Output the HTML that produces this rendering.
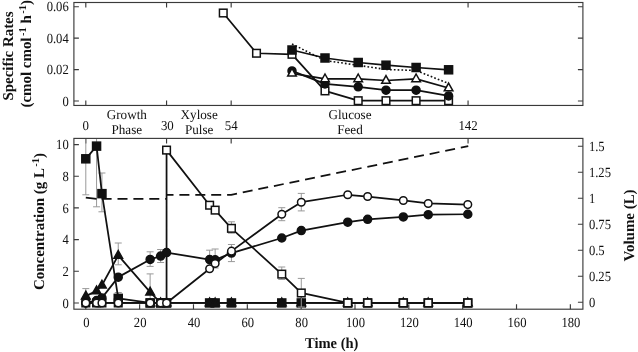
<!DOCTYPE html><html><head><meta charset="utf-8"><title>Figure</title><style>html,body{margin:0;padding:0;background:#fff}svg{display:block;will-change:transform}text{text-rendering:geometricPrecision}text{font-family:"Liberation Serif","Times New Roman",serif;fill:#111}.b{font-weight:bold}</style></head><body>
<svg width="638" height="352" viewBox="0 0 638 352">
<rect width="638" height="352" fill="#fff"/>
<rect x="73.9" y="2.5" width="509.0" height="102.95" stroke="#3a3a3a" stroke-width="1.15" fill="none"/>
<rect x="73.9" y="138.4" width="509.0" height="170.79999999999998" stroke="#3a3a3a" stroke-width="1.15" fill="none"/>
<path d="M73.9 101.0h5 M582.9 101.0h-5 M73.9 69.58h5 M582.9 69.58h-5 M73.9 38.16h5 M582.9 38.16h-5 M73.9 6.739999999999995h5 M582.9 6.739999999999995h-5 M85.80 2.5v5 M85.80 105.45v-5 M85.80 138.4v5 M166.56 2.5v5 M166.56 105.45v-5 M166.56 138.4v5 M231.17 2.5v5 M231.17 105.45v-5 M231.17 138.4v5 M468.06 2.5v5 M468.06 105.45v-5 M468.06 138.4v5 M73.9 302.95h5 M73.9 271.27h5 M73.9 239.59h5 M73.9 207.91h5 M73.9 176.23h5 M73.9 144.55h5 M582.9 302.25h-5 M582.9 276.25h-5 M582.9 250.25h-5 M582.9 224.25h-5 M582.9 198.25h-5 M582.9 172.25h-5 M582.9 146.25h-5 M85.80 309.2v-5 M139.64 309.2v-5 M193.48 309.2v-5 M247.32 309.2v-5 M301.16 309.2v-5 M355.00 309.2v-5 M408.84 309.2v-5 M462.68 309.2v-5 M516.52 309.2v-5 M570.36 309.2v-5" stroke="#3a3a3a" stroke-width="1.15" fill="none"/>
<text transform="translate(68.7 105.60) scale(0.9 1)" font-size="14" text-anchor="end">0</text>
<text transform="translate(68.7 74.18) scale(0.9 1)" font-size="14" text-anchor="end">0.02</text>
<text transform="translate(68.7 42.76) scale(0.9 1)" font-size="14" text-anchor="end">0.04</text>
<text transform="translate(68.7 11.34) scale(0.9 1)" font-size="14" text-anchor="end">0.06</text>
<text transform="translate(68.7 307.55) scale(0.9 1)" font-size="14" text-anchor="end">0</text>
<text transform="translate(68.7 275.87) scale(0.9 1)" font-size="14" text-anchor="end">2</text>
<text transform="translate(68.7 244.19) scale(0.9 1)" font-size="14" text-anchor="end">4</text>
<text transform="translate(68.7 212.51) scale(0.9 1)" font-size="14" text-anchor="end">6</text>
<text transform="translate(68.7 180.83) scale(0.9 1)" font-size="14" text-anchor="end">8</text>
<text transform="translate(68.7 149.15) scale(0.9 1)" font-size="14" text-anchor="end">10</text>
<text transform="translate(588.9 306.85) scale(0.9 1)" font-size="14">0</text>
<text transform="translate(588.9 280.85) scale(0.9 1)" font-size="14">0.25</text>
<text transform="translate(588.9 254.85) scale(0.9 1)" font-size="14">0.5</text>
<text transform="translate(588.9 228.85) scale(0.9 1)" font-size="14">0.75</text>
<text transform="translate(588.9 202.85) scale(0.9 1)" font-size="14">1</text>
<text transform="translate(588.9 176.85) scale(0.9 1)" font-size="14">1.25</text>
<text transform="translate(588.9 150.85) scale(0.9 1)" font-size="14">1.5</text>
<text transform="translate(86.30 326.7) scale(0.9 1)" font-size="14" text-anchor="middle">0</text>
<text transform="translate(140.14 326.7) scale(0.9 1)" font-size="14" text-anchor="middle">20</text>
<text transform="translate(193.98 326.7) scale(0.9 1)" font-size="14" text-anchor="middle">40</text>
<text transform="translate(247.82 326.7) scale(0.9 1)" font-size="14" text-anchor="middle">60</text>
<text transform="translate(301.66 326.7) scale(0.9 1)" font-size="14" text-anchor="middle">80</text>
<text transform="translate(355.50 326.7) scale(0.9 1)" font-size="14" text-anchor="middle">100</text>
<text transform="translate(409.34 326.7) scale(0.9 1)" font-size="14" text-anchor="middle">120</text>
<text transform="translate(463.18 326.7) scale(0.9 1)" font-size="14" text-anchor="middle">140</text>
<text transform="translate(517.02 326.7) scale(0.9 1)" font-size="14" text-anchor="middle">160</text>
<text transform="translate(570.86 326.7) scale(0.9 1)" font-size="14" text-anchor="middle">180</text>
<text transform="translate(85.80 130.4) scale(0.954 1)" font-size="13.5" text-anchor="middle">0</text>
<text transform="translate(167.36 130.4) scale(0.954 1)" font-size="13.5" text-anchor="middle">30</text>
<text transform="translate(231.17 130.4) scale(0.954 1)" font-size="13.5" text-anchor="middle">54</text>
<text transform="translate(468.06 130.4) scale(0.954 1)" font-size="13.5" text-anchor="middle">142</text>
<text transform="translate(126.8 119.2) scale(0.973 1)" font-size="13.5" text-anchor="middle">Growth</text>
<text transform="translate(126.8 134.1) scale(0.973 1)" font-size="13.5" text-anchor="middle">Phase</text>
<text transform="translate(199.2 119.2) scale(0.973 1)" font-size="13.5" text-anchor="middle">Xylose</text>
<text transform="translate(199.2 134.1) scale(0.973 1)" font-size="13.5" text-anchor="middle">Pulse</text>
<text transform="translate(350 119.2) scale(0.973 1)" font-size="13.5" text-anchor="middle">Glucose</text>
<text transform="translate(350 134.1) scale(0.973 1)" font-size="13.5" text-anchor="middle">Feed</text>
<text class="b" font-size="15" text-anchor="middle" transform="translate(13 56) rotate(-90) scale(0.995 1)">Specific Rates</text>
<text class="b" font-size="15" text-anchor="middle" transform="translate(31 53.8) rotate(-90) scale(0.995 1)">(cmol cmol<tspan font-size="10.5" dy="-5.5" dx="1.5">-1</tspan><tspan dy="5.5"> h</tspan><tspan font-size="10.5" dy="-5.5" dx="1.5">-1</tspan><tspan dy="5.5">)</tspan></text>
<text class="b" font-size="15" text-anchor="middle" transform="translate(44 221.5) rotate(-90) scale(0.995 1)">Concentration (g L<tspan font-size="10.5" dy="-5.5" dx="1.5">-1</tspan><tspan dy="5.5">)</tspan></text>
<text class="b" font-size="15" text-anchor="middle" transform="translate(633.6 225.4) rotate(-90) scale(0.995 1)">Volume (L)</text>
<text class="b" font-size="15" text-anchor="middle" transform="translate(331.7 348.4) scale(0.97 1)">Time (h)</text>
<path d="M292.00 44.00 L325.00 60.50 L358.20 65.30 L386.00 69.50 L416.10 70.50 L448.60 83.50" stroke="#111" stroke-width="1.75" fill="none" stroke-linejoin="round" stroke-dasharray="1.7 2.1" style="stroke-width:1.6"/>
<path d="M223.25 13.00 L256.50 53.25 L292.00 54.30 L325.00 90.90 L358.20 100.70 L386.00 100.70 L416.10 100.70 L448.60 100.70" stroke="#111" stroke-width="1.75" fill="none" stroke-linejoin="round" />
<rect x="219.45" y="9.20" width="7.6" height="7.6" fill="#fff" stroke="#111" stroke-width="1.5"/>
<rect x="252.70" y="49.45" width="7.6" height="7.6" fill="#fff" stroke="#111" stroke-width="1.5"/>
<rect x="288.20" y="50.50" width="7.6" height="7.6" fill="#fff" stroke="#111" stroke-width="1.5"/>
<rect x="321.20" y="87.10" width="7.6" height="7.6" fill="#fff" stroke="#111" stroke-width="1.5"/>
<rect x="354.40" y="96.90" width="7.6" height="7.6" fill="#fff" stroke="#111" stroke-width="1.5"/>
<rect x="382.20" y="96.90" width="7.6" height="7.6" fill="#fff" stroke="#111" stroke-width="1.5"/>
<rect x="412.30" y="96.90" width="7.6" height="7.6" fill="#fff" stroke="#111" stroke-width="1.5"/>
<rect x="444.80" y="96.90" width="7.6" height="7.6" fill="#fff" stroke="#111" stroke-width="1.5"/>
<path d="M292.00 70.90 L325.00 83.90 L358.20 86.80 L386.00 90.20 L416.10 90.20 L448.60 95.90" stroke="#111" stroke-width="1.75" fill="none" stroke-linejoin="round" />
<circle cx="292.00" cy="70.90" r="4.0" fill="#111" stroke="#111" stroke-width="1.5"/>
<circle cx="325.00" cy="83.90" r="4.0" fill="#111" stroke="#111" stroke-width="1.5"/>
<circle cx="358.20" cy="86.80" r="4.0" fill="#111" stroke="#111" stroke-width="1.5"/>
<circle cx="386.00" cy="90.20" r="4.0" fill="#111" stroke="#111" stroke-width="1.5"/>
<circle cx="416.10" cy="90.20" r="4.0" fill="#111" stroke="#111" stroke-width="1.5"/>
<circle cx="448.60" cy="95.90" r="4.0" fill="#111" stroke="#111" stroke-width="1.5"/>
<path d="M292.00 73.30 L325.00 78.90 L358.20 78.90 L386.00 80.50 L416.10 78.90 L448.60 88.00" stroke="#111" stroke-width="1.75" fill="none" stroke-linejoin="round" />
<path d="M292.00 68.40L296.30 76.10L287.70 76.10Z" fill="#fff" stroke="#111" stroke-width="1.5" stroke-linejoin="miter"/>
<path d="M325.00 74.00L329.30 81.70L320.70 81.70Z" fill="#fff" stroke="#111" stroke-width="1.5" stroke-linejoin="miter"/>
<path d="M358.20 74.00L362.50 81.70L353.90 81.70Z" fill="#fff" stroke="#111" stroke-width="1.5" stroke-linejoin="miter"/>
<path d="M386.00 75.60L390.30 83.30L381.70 83.30Z" fill="#fff" stroke="#111" stroke-width="1.5" stroke-linejoin="miter"/>
<path d="M416.10 74.00L420.40 81.70L411.80 81.70Z" fill="#fff" stroke="#111" stroke-width="1.5" stroke-linejoin="miter"/>
<path d="M448.60 83.10L452.90 90.80L444.30 90.80Z" fill="#fff" stroke="#111" stroke-width="1.5" stroke-linejoin="miter"/>
<path d="M292.00 50.00 L325.00 58.00 L358.20 62.50 L386.00 65.20 L416.10 67.50 L448.60 69.80" stroke="#111" stroke-width="1.75" fill="none" stroke-linejoin="round" />
<rect x="288.00" y="46.00" width="8.0" height="8.0" fill="#111" stroke="#111" stroke-width="1.5"/>
<rect x="321.00" y="54.00" width="8.0" height="8.0" fill="#111" stroke="#111" stroke-width="1.5"/>
<rect x="354.20" y="58.50" width="8.0" height="8.0" fill="#111" stroke="#111" stroke-width="1.5"/>
<rect x="382.00" y="61.20" width="8.0" height="8.0" fill="#111" stroke="#111" stroke-width="1.5"/>
<rect x="412.10" y="63.50" width="8.0" height="8.0" fill="#111" stroke="#111" stroke-width="1.5"/>
<rect x="444.60" y="65.80" width="8.0" height="8.0" fill="#111" stroke="#111" stroke-width="1.5"/>
<path d="M85.80 139.00V194.80M82.30 194.80h7.0" stroke="#999" stroke-width="1" fill="none"/>
<path d="M96.57 139.00V206.80M93.07 206.80h7.0" stroke="#999" stroke-width="1" fill="none"/>
<path d="M101.95 173.00V211.80M98.45 173.00h7.0M98.45 211.80h7.0" stroke="#999" stroke-width="1" fill="none"/>
<path d="M118.24 243.00V264.80M114.74 243.00h7.0M114.74 264.80h7.0" stroke="#999" stroke-width="1" fill="none"/>
<path d="M150.14 251.80V266.40M146.64 251.80h7.0M146.64 266.40h7.0" stroke="#999" stroke-width="1" fill="none"/>
<path d="M160.64 249.50V262.50M157.14 249.50h7.0M157.14 262.50h7.0" stroke="#999" stroke-width="1" fill="none"/>
<path d="M150.14 273.90V302.00M146.64 273.90h7.0" stroke="#999" stroke-width="1" fill="none"/>
<path d="M85.80 288.60V302.00M82.30 288.60h7.0" stroke="#999" stroke-width="1" fill="none"/>
<path d="M118.24 292.50V302.00M114.74 292.50h7.0" stroke="#999" stroke-width="1" fill="none"/>
<path d="M209.63 250.20V268.00M206.13 250.20h7.0M206.13 268.00h7.0" stroke="#999" stroke-width="1" fill="none"/>
<path d="M215.15 249.00V268.00M211.65 249.00h7.0M211.65 268.00h7.0" stroke="#999" stroke-width="1" fill="none"/>
<path d="M231.44 221.80V233.20M227.94 221.80h7.0M227.94 233.20h7.0" stroke="#999" stroke-width="1" fill="none"/>
<path d="M231.44 244.50V261.60M227.94 244.50h7.0M227.94 261.60h7.0" stroke="#999" stroke-width="1" fill="none"/>
<path d="M281.78 207.70V220.70M278.28 207.70h7.0M278.28 220.70h7.0" stroke="#999" stroke-width="1" fill="none"/>
<path d="M281.78 267.00V279.50M278.28 267.00h7.0M278.28 279.50h7.0" stroke="#999" stroke-width="1" fill="none"/>
<path d="M301.29 193.40V210.90M297.79 193.40h7.0M297.79 210.90h7.0" stroke="#999" stroke-width="1" fill="none"/>
<path d="M85.80 197.60 L96.57 198.80" stroke="#111" stroke-width="1.75" fill="none" stroke-linejoin="round" />
<path d="M96.57 198.80 L166.56 198.80" stroke="#111" stroke-width="1.75" fill="none" stroke-linejoin="round" stroke-dasharray="10 5.9" stroke-dashoffset="10.87"/>
<path d="M166.56 194.80 L231.17 194.80 L468.26 146.10" stroke="#111" stroke-width="1.75" fill="none" stroke-linejoin="round" stroke-dasharray="10 5.9" stroke-dashoffset="3.06"/>
<path d="M85.80 158.81 L96.57 146.13 L101.95 193.65 L118.24 298.36 L150.14 302.95 L160.64 302.95 L166.56 302.95 L209.63 302.95 L215.15 302.95 L231.44 302.95 L281.78 302.95 L301.29 302.95 L347.73 302.95 L367.65 302.95 L403.32 302.95 L428.22 302.95 L467.79 302.95" stroke="#111" stroke-width="1.75" fill="none" stroke-linejoin="round" />
<rect x="81.80" y="154.81" width="8.0" height="8.0" fill="#111" stroke="#111" stroke-width="1.5"/>
<rect x="92.57" y="142.13" width="8.0" height="8.0" fill="#111" stroke="#111" stroke-width="1.5"/>
<rect x="97.95" y="189.65" width="8.0" height="8.0" fill="#111" stroke="#111" stroke-width="1.5"/>
<rect x="114.24" y="294.36" width="8.0" height="8.0" fill="#111" stroke="#111" stroke-width="1.5"/>
<rect x="146.14" y="298.95" width="8.0" height="8.0" fill="#111" stroke="#111" stroke-width="1.5"/>
<rect x="156.64" y="298.95" width="8.0" height="8.0" fill="#111" stroke="#111" stroke-width="1.5"/>
<rect x="162.56" y="298.95" width="8.0" height="8.0" fill="#111" stroke="#111" stroke-width="1.5"/>
<rect x="205.63" y="298.95" width="8.0" height="8.0" fill="#111" stroke="#111" stroke-width="1.5"/>
<rect x="211.15" y="298.95" width="8.0" height="8.0" fill="#111" stroke="#111" stroke-width="1.5"/>
<rect x="227.44" y="298.95" width="8.0" height="8.0" fill="#111" stroke="#111" stroke-width="1.5"/>
<rect x="277.78" y="298.95" width="8.0" height="8.0" fill="#111" stroke="#111" stroke-width="1.5"/>
<rect x="297.29" y="298.95" width="8.0" height="8.0" fill="#111" stroke="#111" stroke-width="1.5"/>
<rect x="343.73" y="298.95" width="8.0" height="8.0" fill="#111" stroke="#111" stroke-width="1.5"/>
<rect x="363.65" y="298.95" width="8.0" height="8.0" fill="#111" stroke="#111" stroke-width="1.5"/>
<rect x="399.32" y="298.95" width="8.0" height="8.0" fill="#111" stroke="#111" stroke-width="1.5"/>
<rect x="424.22" y="298.95" width="8.0" height="8.0" fill="#111" stroke="#111" stroke-width="1.5"/>
<rect x="463.79" y="298.95" width="8.0" height="8.0" fill="#111" stroke="#111" stroke-width="1.5"/>
<path d="M85.80 296.14 L96.57 290.91 L101.95 285.21 L118.24 255.43 L150.14 292.18 L160.64 302.95 L166.56 302.95 L209.63 302.95 L215.15 302.95 L231.44 302.95 L281.78 302.95 L301.29 302.95 L347.73 302.95 L367.65 302.95 L403.32 302.95 L428.22 302.95 L467.79 302.95" stroke="#111" stroke-width="1.75" fill="none" stroke-linejoin="round" />
<path d="M85.80 291.24L90.10 298.94L81.50 298.94Z" fill="#111" stroke="#111" stroke-width="1.5" stroke-linejoin="miter"/>
<path d="M96.57 286.01L100.87 293.71L92.27 293.71Z" fill="#111" stroke="#111" stroke-width="1.5" stroke-linejoin="miter"/>
<path d="M101.95 280.31L106.25 288.01L97.65 288.01Z" fill="#111" stroke="#111" stroke-width="1.5" stroke-linejoin="miter"/>
<path d="M118.24 250.53L122.54 258.23L113.94 258.23Z" fill="#111" stroke="#111" stroke-width="1.5" stroke-linejoin="miter"/>
<path d="M150.14 287.28L154.44 294.98L145.84 294.98Z" fill="#111" stroke="#111" stroke-width="1.5" stroke-linejoin="miter"/>
<path d="M160.64 298.05L164.94 305.75L156.34 305.75Z" fill="#111" stroke="#111" stroke-width="1.5" stroke-linejoin="miter"/>
<path d="M166.56 298.05L170.86 305.75L162.26 305.75Z" fill="#111" stroke="#111" stroke-width="1.5" stroke-linejoin="miter"/>
<path d="M209.63 298.05L213.93 305.75L205.33 305.75Z" fill="#111" stroke="#111" stroke-width="1.5" stroke-linejoin="miter"/>
<path d="M215.15 298.05L219.45 305.75L210.85 305.75Z" fill="#111" stroke="#111" stroke-width="1.5" stroke-linejoin="miter"/>
<path d="M231.44 298.05L235.74 305.75L227.14 305.75Z" fill="#111" stroke="#111" stroke-width="1.5" stroke-linejoin="miter"/>
<path d="M281.78 298.05L286.08 305.75L277.48 305.75Z" fill="#111" stroke="#111" stroke-width="1.5" stroke-linejoin="miter"/>
<path d="M301.29 298.05L305.59 305.75L296.99 305.75Z" fill="#111" stroke="#111" stroke-width="1.5" stroke-linejoin="miter"/>
<path d="M347.73 298.05L352.03 305.75L343.43 305.75Z" fill="#111" stroke="#111" stroke-width="1.5" stroke-linejoin="miter"/>
<path d="M367.65 298.05L371.95 305.75L363.35 305.75Z" fill="#111" stroke="#111" stroke-width="1.5" stroke-linejoin="miter"/>
<path d="M403.32 298.05L407.62 305.75L399.02 305.75Z" fill="#111" stroke="#111" stroke-width="1.5" stroke-linejoin="miter"/>
<path d="M428.22 298.05L432.52 305.75L423.92 305.75Z" fill="#111" stroke="#111" stroke-width="1.5" stroke-linejoin="miter"/>
<path d="M467.79 298.05L472.09 305.75L463.49 305.75Z" fill="#111" stroke="#111" stroke-width="1.5" stroke-linejoin="miter"/>
<path d="M301.29 278.40V307.00M297.79 278.40h7.0M297.79 307.00h7.0" stroke="#999" stroke-width="1" fill="none"/>
<path d="M85.80 302.95 L96.57 302.95 L101.95 302.95 L118.24 302.95 L150.14 302.95 L160.64 302.95 L166.56 302.95 L166.56 150.09 L209.63 205.22 L215.15 210.13 L231.44 228.34 L281.78 274.12 L301.29 292.97 L347.73 302.95 L367.65 302.95 L403.32 302.95 L428.22 302.95 L467.79 302.95" stroke="#111" stroke-width="1.75" fill="none" stroke-linejoin="round" />
<rect x="82.00" y="299.15" width="7.6" height="7.6" fill="#fff" stroke="#111" stroke-width="1.5"/>
<rect x="92.77" y="299.15" width="7.6" height="7.6" fill="#fff" stroke="#111" stroke-width="1.5"/>
<rect x="98.15" y="299.15" width="7.6" height="7.6" fill="#fff" stroke="#111" stroke-width="1.5"/>
<rect x="114.44" y="299.15" width="7.6" height="7.6" fill="#fff" stroke="#111" stroke-width="1.5"/>
<rect x="146.34" y="299.15" width="7.6" height="7.6" fill="#fff" stroke="#111" stroke-width="1.5"/>
<rect x="156.84" y="299.15" width="7.6" height="7.6" fill="#fff" stroke="#111" stroke-width="1.5"/>
<rect x="162.76" y="299.15" width="7.6" height="7.6" fill="#fff" stroke="#111" stroke-width="1.5"/>
<rect x="162.76" y="146.29" width="7.6" height="7.6" fill="#fff" stroke="#111" stroke-width="1.5"/>
<rect x="205.83" y="201.42" width="7.6" height="7.6" fill="#fff" stroke="#111" stroke-width="1.5"/>
<rect x="211.35" y="206.33" width="7.6" height="7.6" fill="#fff" stroke="#111" stroke-width="1.5"/>
<rect x="227.64" y="224.54" width="7.6" height="7.6" fill="#fff" stroke="#111" stroke-width="1.5"/>
<rect x="277.98" y="270.32" width="7.6" height="7.6" fill="#fff" stroke="#111" stroke-width="1.5"/>
<rect x="297.49" y="289.17" width="7.6" height="7.6" fill="#fff" stroke="#111" stroke-width="1.5"/>
<rect x="343.93" y="299.15" width="7.6" height="7.6" fill="#fff" stroke="#111" stroke-width="1.5"/>
<rect x="363.85" y="299.15" width="7.6" height="7.6" fill="#fff" stroke="#111" stroke-width="1.5"/>
<rect x="399.52" y="299.15" width="7.6" height="7.6" fill="#fff" stroke="#111" stroke-width="1.5"/>
<rect x="424.42" y="299.15" width="7.6" height="7.6" fill="#fff" stroke="#111" stroke-width="1.5"/>
<rect x="463.99" y="299.15" width="7.6" height="7.6" fill="#fff" stroke="#111" stroke-width="1.5"/>
<path d="M85.80 302.95 L96.57 300.57 L101.95 297.88 L118.24 277.13 L150.14 259.39 L160.64 256.06 L166.56 252.58 L209.63 259.55 L215.15 259.87 L231.44 253.05 L281.78 238.01 L301.29 230.56 L347.73 222.17 L367.65 219.31 L403.32 216.94 L428.22 214.72 L467.79 214.25" stroke="#111" stroke-width="1.75" fill="none" stroke-linejoin="round" />
<circle cx="85.80" cy="302.95" r="4.0" fill="#111" stroke="#111" stroke-width="1.5"/>
<circle cx="96.57" cy="300.57" r="4.0" fill="#111" stroke="#111" stroke-width="1.5"/>
<circle cx="101.95" cy="297.88" r="4.0" fill="#111" stroke="#111" stroke-width="1.5"/>
<circle cx="118.24" cy="277.13" r="4.0" fill="#111" stroke="#111" stroke-width="1.5"/>
<circle cx="150.14" cy="259.39" r="4.0" fill="#111" stroke="#111" stroke-width="1.5"/>
<circle cx="160.64" cy="256.06" r="4.0" fill="#111" stroke="#111" stroke-width="1.5"/>
<circle cx="166.56" cy="252.58" r="4.0" fill="#111" stroke="#111" stroke-width="1.5"/>
<circle cx="209.63" cy="259.55" r="4.0" fill="#111" stroke="#111" stroke-width="1.5"/>
<circle cx="215.15" cy="259.87" r="4.0" fill="#111" stroke="#111" stroke-width="1.5"/>
<circle cx="231.44" cy="253.05" r="4.0" fill="#111" stroke="#111" stroke-width="1.5"/>
<circle cx="281.78" cy="238.01" r="4.0" fill="#111" stroke="#111" stroke-width="1.5"/>
<circle cx="301.29" cy="230.56" r="4.0" fill="#111" stroke="#111" stroke-width="1.5"/>
<circle cx="347.73" cy="222.17" r="4.0" fill="#111" stroke="#111" stroke-width="1.5"/>
<circle cx="367.65" cy="219.31" r="4.0" fill="#111" stroke="#111" stroke-width="1.5"/>
<circle cx="403.32" cy="216.94" r="4.0" fill="#111" stroke="#111" stroke-width="1.5"/>
<circle cx="428.22" cy="214.72" r="4.0" fill="#111" stroke="#111" stroke-width="1.5"/>
<circle cx="467.79" cy="214.25" r="4.0" fill="#111" stroke="#111" stroke-width="1.5"/>
<path d="M85.80 302.95 L96.57 302.95 L101.95 302.95 L118.24 302.95 L150.14 302.95 L160.64 302.95 L166.56 302.95 L209.63 268.74 L215.15 263.51 L231.44 251.15 L281.78 214.25 L301.29 202.21 L347.73 194.76 L367.65 196.51 L403.32 200.47 L428.22 203.47 L467.79 204.58" stroke="#111" stroke-width="1.75" fill="none" stroke-linejoin="round" />
<circle cx="85.80" cy="302.95" r="3.8" fill="#fff" stroke="#111" stroke-width="1.5"/>
<circle cx="96.57" cy="302.95" r="3.8" fill="#fff" stroke="#111" stroke-width="1.5"/>
<circle cx="101.95" cy="302.95" r="3.8" fill="#fff" stroke="#111" stroke-width="1.5"/>
<circle cx="118.24" cy="302.95" r="3.8" fill="#fff" stroke="#111" stroke-width="1.5"/>
<circle cx="150.14" cy="302.95" r="3.8" fill="#fff" stroke="#111" stroke-width="1.5"/>
<circle cx="160.64" cy="302.95" r="3.8" fill="#fff" stroke="#111" stroke-width="1.5"/>
<circle cx="166.56" cy="302.95" r="3.8" fill="#fff" stroke="#111" stroke-width="1.5"/>
<circle cx="209.63" cy="268.74" r="3.8" fill="#fff" stroke="#111" stroke-width="1.5"/>
<circle cx="215.15" cy="263.51" r="3.8" fill="#fff" stroke="#111" stroke-width="1.5"/>
<circle cx="231.44" cy="251.15" r="3.8" fill="#fff" stroke="#111" stroke-width="1.5"/>
<circle cx="281.78" cy="214.25" r="3.8" fill="#fff" stroke="#111" stroke-width="1.5"/>
<circle cx="301.29" cy="202.21" r="3.8" fill="#fff" stroke="#111" stroke-width="1.5"/>
<circle cx="347.73" cy="194.76" r="3.8" fill="#fff" stroke="#111" stroke-width="1.5"/>
<circle cx="367.65" cy="196.51" r="3.8" fill="#fff" stroke="#111" stroke-width="1.5"/>
<circle cx="403.32" cy="200.47" r="3.8" fill="#fff" stroke="#111" stroke-width="1.5"/>
<circle cx="428.22" cy="203.47" r="3.8" fill="#fff" stroke="#111" stroke-width="1.5"/>
<circle cx="467.79" cy="204.58" r="3.8" fill="#fff" stroke="#111" stroke-width="1.5"/>
</svg></body></html>
